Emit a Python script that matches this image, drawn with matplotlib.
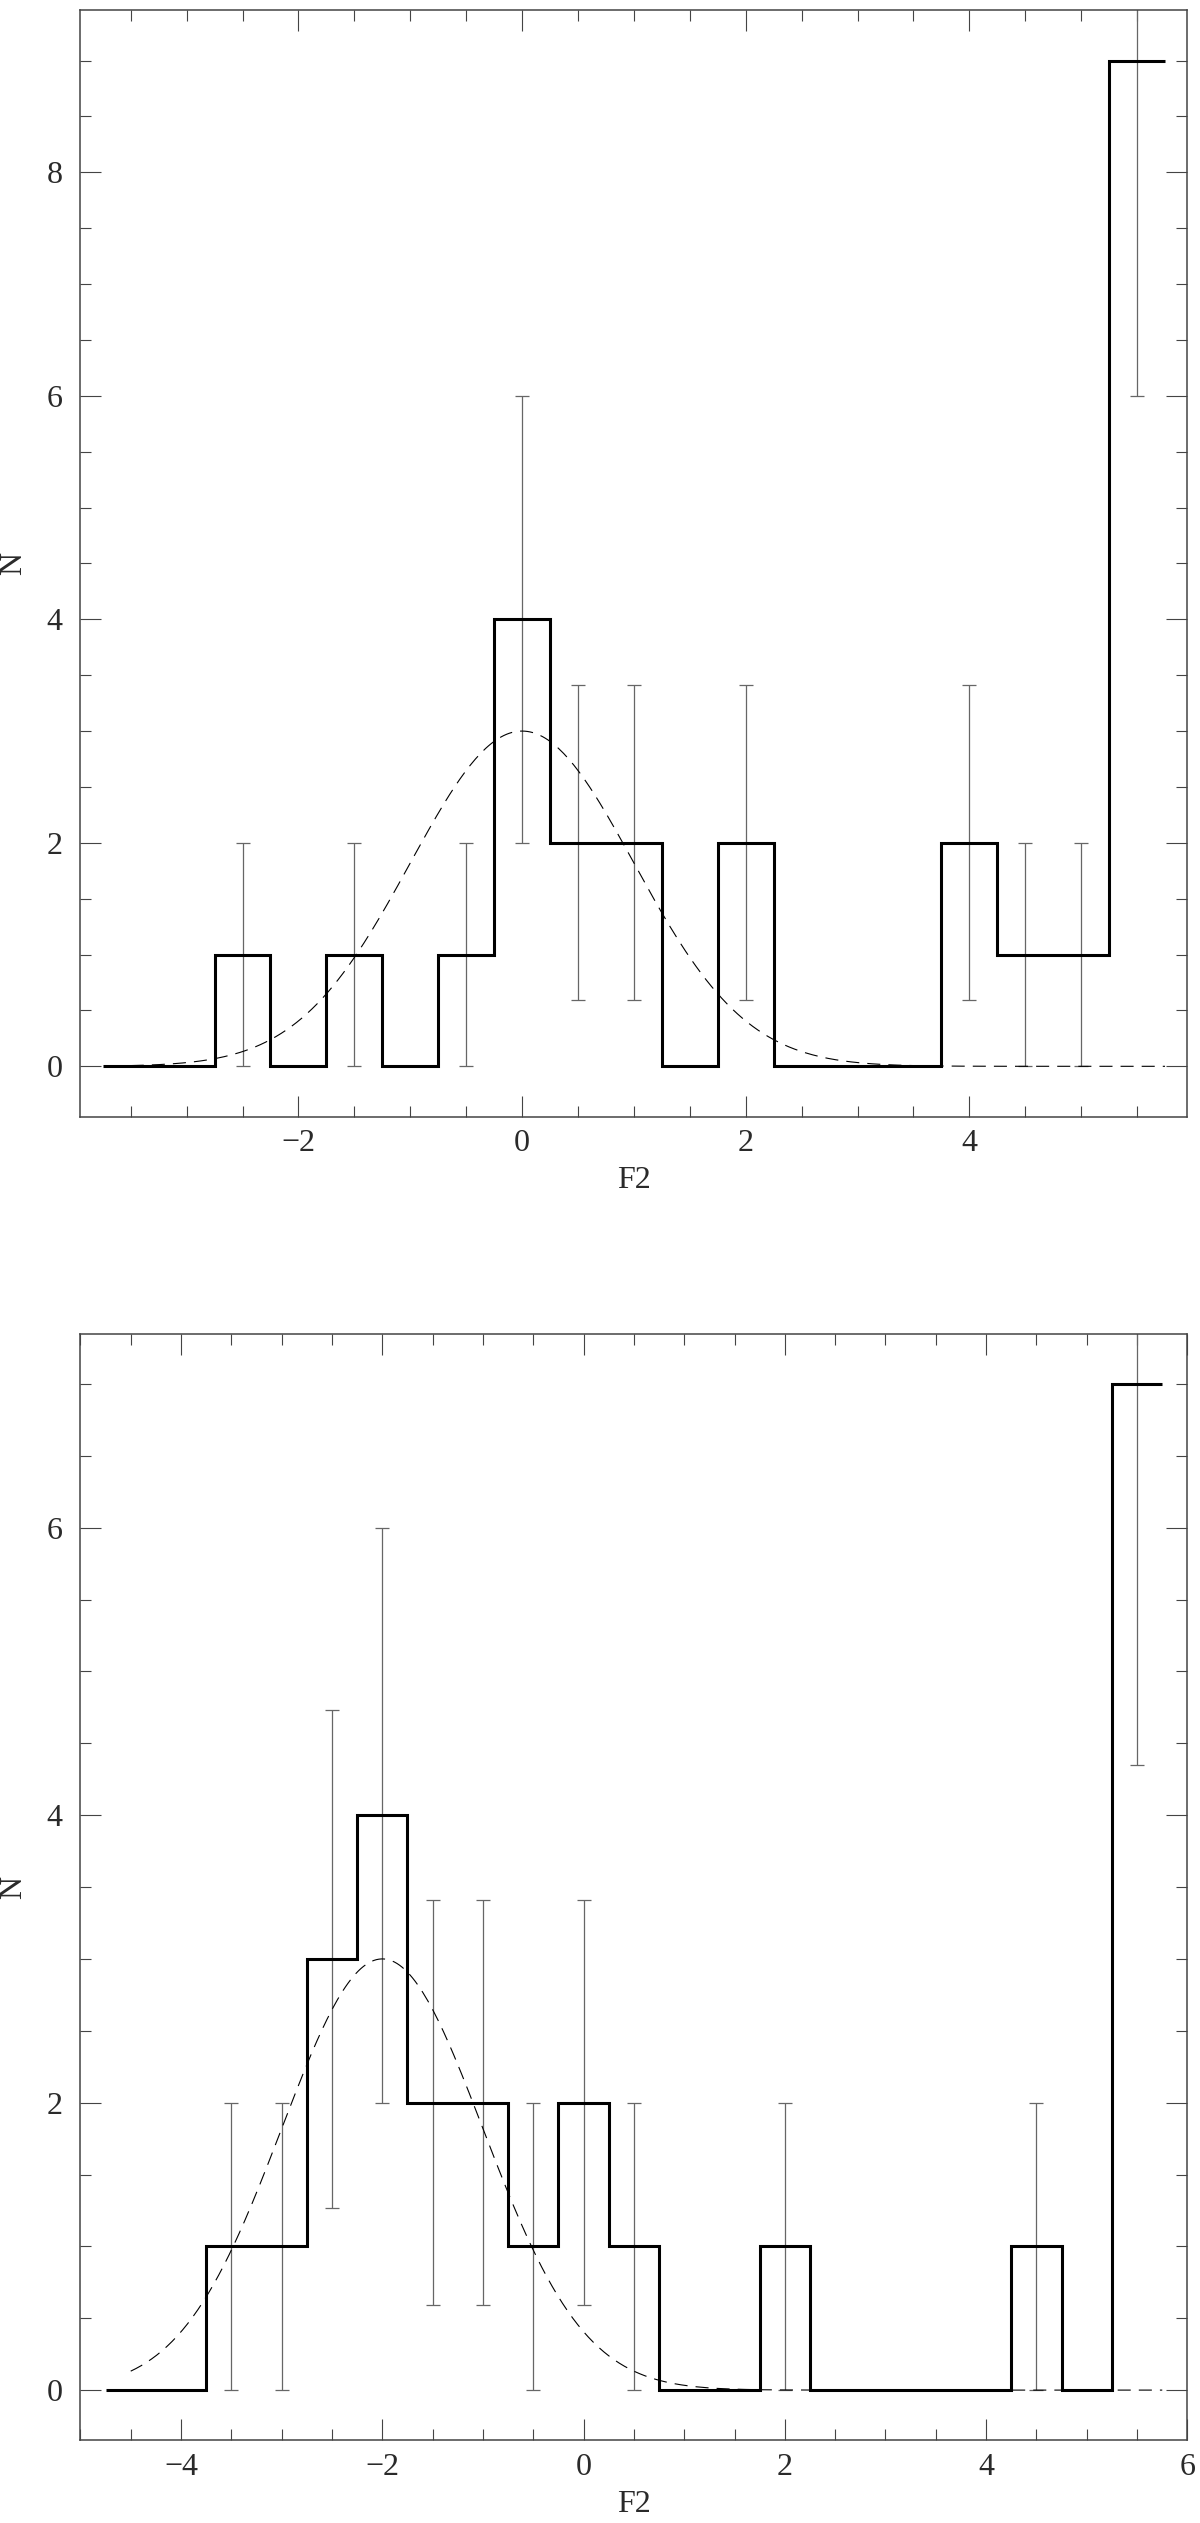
import numpy as np
import matplotlib
matplotlib.use('Agg')
import matplotlib.pyplot as plt
from matplotlib.ticker import MultipleLocator

plt.rcParams['font.family'] = ['Liberation Serif', 'DejaVu Serif']
plt.rcParams['lines.scale_dashes'] = False

BIN_WIDTH = 0.5

# ---- top panel data ----
top_centers = [-3.5, -3.0, -2.5, -2.0, -1.5, -1.0, -0.5, 0.0, 0.5, 1.0,
               1.5, 2.0, 2.5, 3.0, 3.5, 4.0, 4.5, 5.0, 5.5]
top_counts = [0, 0, 1, 0, 1, 0, 1, 4, 2, 2, 0, 2, 0, 0, 0, 2, 1, 1, 9]
top_err_x = [-2.5, -1.5, -0.5, 0.0, 0.5, 1.0, 2.0, 4.0, 4.5, 5.0, 5.5]
top_err_y = [1, 1, 1, 4, 2, 2, 2, 2, 1, 1, 9]
top_err = [1.0, 1.0, 1.0, 2.0, 1.41, 1.41, 1.41, 1.41, 1.0, 1.0, 3.0]
top_fit_amp, top_fit_mean, top_fit_sigma = 3.0, 0.0, 1.0
top_fit_range = (-3.5, 5.75)

# ---- bottom panel data ----
bot_centers = [-4.5, -4.0, -3.5, -3.0, -2.5, -2.0, -1.5, -1.0, -0.5, 0.0,
               0.5, 1.0, 1.5, 2.0, 2.5, 3.0, 3.5, 4.0, 4.5, 5.0, 5.5]
bot_counts = [0, 0, 1, 1, 3, 4, 2, 2, 1, 2, 1, 0, 0, 1, 0, 0, 0, 0, 1, 0, 7]
bot_err_x = [-3.5, -3.0, -2.5, -2.0, -1.5, -1.0, -0.5, 0.0, 0.5, 2.0, 4.5, 5.5]
bot_err_y = [1, 1, 3, 4, 2, 2, 1, 2, 1, 1, 1, 7]
bot_err = [1.0, 1.0, 1.73, 2.0, 1.41, 1.41, 1.0, 1.41, 1.0, 1.0, 1.0, 2.65]
bot_fit_amp, bot_fit_mean, bot_fit_sigma = 3.0, -2.0, 1.0
bot_fit_range = (-4.5, 5.75)

x_label = 'F2'
y_label = 'N'

W, H = 1200, 2523
fig = plt.figure(figsize=(W / 100, H / 100), dpi=100)

ax_top = fig.add_axes([80.4 / W, 1 - 1116.6 / H, 1107 / W, 1106.3 / H])
ax_bot = fig.add_axes([80.4 / W, 1 - 2440.4 / H, 1107 / W, 1106.7 / H])

SPINE = '#444444'
TEXT = '#2a2a2a'
ERR = '#666666'


def draw(ax, centers, counts, ex, ey, ee, amp, mu, sig, frange, xlim, ylim):
    c = np.asarray(centers, dtype=float)
    edges = np.append(c - BIN_WIDTH / 2, c[-1] + BIN_WIDTH / 2)
    ax.errorbar(ex, ey, yerr=ee, fmt='none', ecolor=ERR, elinewidth=0.9,
                capsize=4.7, capthick=0.9, zorder=2)
    xs = np.linspace(frange[0], frange[1], 400)
    ax.plot(xs, amp * np.exp(-0.5 * ((xs - mu) / sig) ** 2), color='black',
            lw=0.8, dashes=(9.4, 5.8), zorder=3)
    ax.stairs(counts, edges, baseline=None, color='black', lw=2.2, zorder=4)
    ax.set_xlim(*xlim)
    ax.set_ylim(*ylim)
    ax.xaxis.set_major_locator(MultipleLocator(2))
    ax.xaxis.set_minor_locator(MultipleLocator(0.5))
    ax.yaxis.set_major_locator(MultipleLocator(2))
    ax.yaxis.set_minor_locator(MultipleLocator(0.5))
    ax.tick_params(which='both', direction='in', top=True, right=True,
                   color=SPINE, labelcolor=TEXT, labelsize=23)
    ax.tick_params(which='major', length=15, width=0.8)
    ax.tick_params(which='minor', length=8, width=0.8)
    ax.tick_params(axis='x', which='major', pad=9)
    ax.tick_params(axis='y', which='major', pad=13)
    for s in ax.spines.values():
        s.set_color(SPINE)
        s.set_linewidth(1.1)
    ax.set_xlabel(x_label, fontsize=23, color=TEXT)
    ax.set_ylabel(y_label, fontsize=23, color=TEXT)
    ax.xaxis.set_label_coords(0.5, -0.045)
    ax.yaxis.set_label_coords(-0.047, 0.5)


draw(ax_top, top_centers, top_counts, top_err_x, top_err_y, top_err,
     top_fit_amp, top_fit_mean, top_fit_sigma, top_fit_range,
     (-3.95, 5.95), (-0.45, 9.45))
draw(ax_bot, bot_centers, bot_counts, bot_err_x, bot_err_y, bot_err,
     bot_fit_amp, bot_fit_mean, bot_fit_sigma, bot_fit_range,
     (-5.0, 6.0), (-0.35, 7.35))

fig.savefig('out.png', dpi=100)
